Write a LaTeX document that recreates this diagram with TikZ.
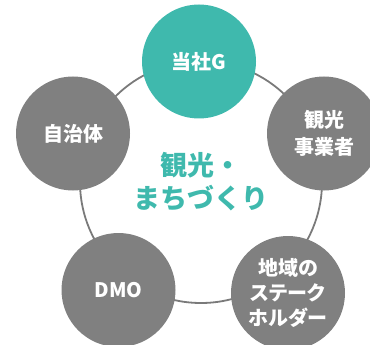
\documentclass[tikz,border=0pt]{standalone}
\usepackage{fontspec}
\setmainfont{Noto Sans CJK JP}
\definecolor{hubteal}{HTML}{3FB9AD}
\definecolor{membergray}{HTML}{808080}
\definecolor{ringgray}{HTML}{7A7A7A}
\begin{document}
\begin{tikzpicture}[x=1pt,y=-1pt,
	member/.style={circle,fill=membergray,text=white,minimum size=114pt,inner sep=0pt,align=center,
		font=\fontsize{20}{27}\selectfont\bfseries},
	hub/.style={circle,draw=ringgray,line width=1.8pt,minimum size=242pt,inner sep=0pt,align=center,
		text=hubteal,font=\fontsize{27}{33}\selectfont\bfseries}]
	\useasboundingbox (0,0) rectangle (370,345);

	\node[hub] (ring) at (201,182) {観光・\\まちづくり}; % ring and centre text

	\node[member,fill=hubteal] (tousha) at (199,61.5) {当社G}; % top
	\node[member] (jichitai) at (73,133.5) {自治体}; % left
	\node[member] (jigyousha) at (324,133.5) {観光\\事業者}; % right
	\node[member] (dmo) at (118.5,290) {DMO}; % bottom left
	\node[member,font=\fontsize{20}{25}\selectfont\bfseries\addfontfeatures{RawFeature=+palt}] (holder) at (288,293) {地域の\\ステーク\\ホルダー}; % bottom right
\end{tikzpicture}
\end{document}
